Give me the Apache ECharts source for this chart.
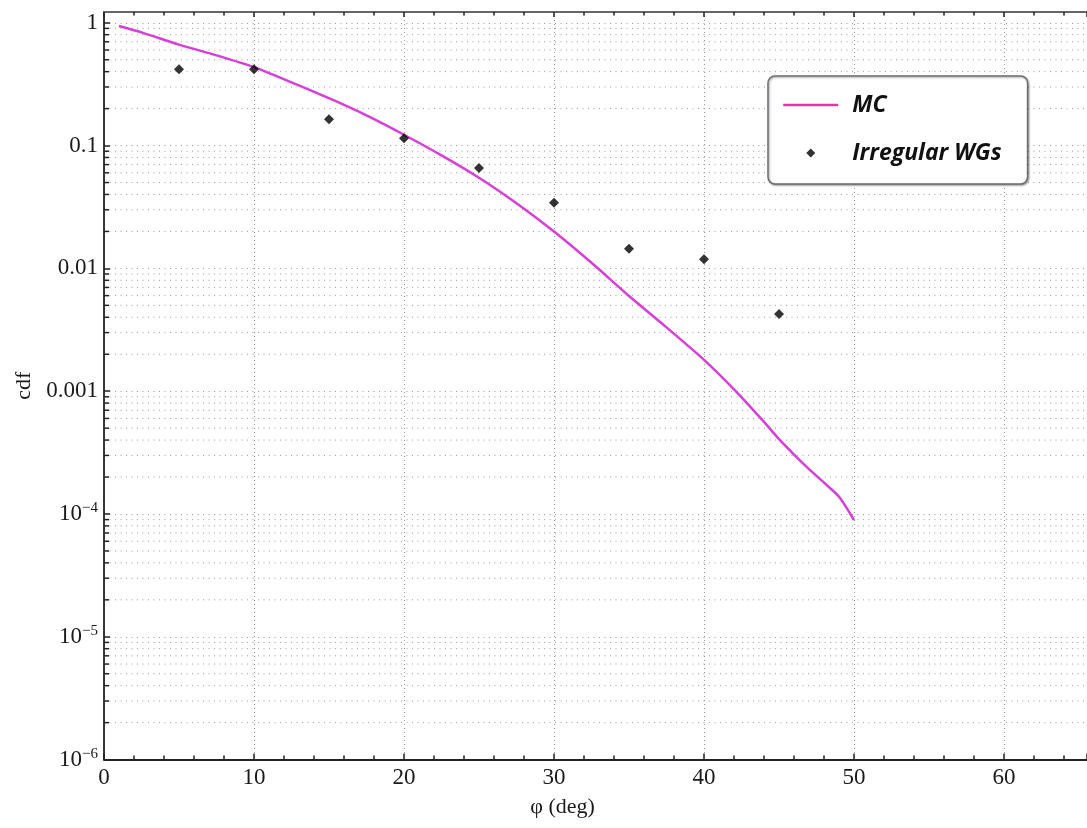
<!DOCTYPE html>
<html>
<head>
<meta charset="utf-8">
<script src="https://cdn.jsdelivr.net/npm/echarts@6/dist/echarts.min.js"></script>
<style>
  html, body { margin: 0; padding: 0; background: #fff; }
  #chart { width: 1087px; height: 828px; }
</style>
</head>
<body>
<div id="chart"></div>
<script>
// Monte Carlo cdf curve
const phiMC = [1, 2.5, 5, 7.5, 10, 12.5, 15, 17.5, 20, 22.5, 25, 27.5, 30, 32.5, 35, 37.5, 40, 42, 44, 45, 46, 47, 48, 49, 50];
const cdfMC = [0.942, 0.836, 0.664, 0.543, 0.435, 0.327, 0.243, 0.176, 0.1225, 0.0832, 0.0547, 0.0339, 0.01995,
               0.0111, 0.00596, 0.00331, 0.0018, 0.001035, 0.000562, 0.000407, 0.000305, 0.000232, 0.00018,
               0.000138, 0.0000891];

// Measured points for irregular waveguides
const phiWG = [5, 10, 15, 20, 25, 30, 35, 40, 45];
const cdfWG = [0.418, 0.418, 0.164, 0.115, 0.0657, 0.0343, 0.01446, 0.01186, 0.00425];

// Axis tick labels: decade exponent -> [mantissa text, superscript]
const yTickExponents = [-6, -5, -4, -3, -2, -1, 0];
const yTickLabels = [['10', '−6'], ['10', '−5'], ['10', '−4'], ['0.001', ''], ['0.01', ''], ['0.1', ''], ['1', '']];

const seriesNames = ['MC', 'Irregular WGs'];

// axis ranges
const xMin = 0, xMax = 65.53, xStep = 10;
const yMin = 1e-6, yMax = 1.224;

// minor log grid values (2..9 x 10^e)
const minorGrid = [];
for (const e of yTickExponents) {
  for (let k = 2; k <= 9; k++) {
    const v = k * Math.pow(10, e);
    if (v < yMax) minorGrid.push([xMin, v]);
  }
}

const serif = 'Liberation Serif';
const ink = '#1a1a1a';
const diamondIcon = 'path://M5,0L10,5L5,10L0,5Z';

const chart = echarts.init(document.getElementById('chart'));
chart.setOption({
  animation: false,
  backgroundColor: '#fff',
  grid: { left: 104, top: 12, right: 0, height: 747.6, containLabel: false },
  legend: {
    orient: 'vertical',
    left: 768, top: 76,
    padding: [17, 26, 19, 14],
    itemWidth: 55, itemHeight: 9, itemGap: 24,
    symbolKeepAspect: true,
    backgroundColor: '#fff',
    borderColor: '#6e6e6e', borderWidth: 1.5, borderRadius: 7,
    shadowColor: 'rgba(0,0,0,0.35)', shadowBlur: 2, shadowOffsetX: 1, shadowOffsetY: 1,
    textStyle: {
      fontFamily: 'Open Sans', fontWeight: 'bold', fontStyle: 'italic',
      fontSize: 23, lineHeight: 24, color: '#111', padding: [0, 0, 0, 9]
    },
    data: [
      { name: seriesNames[0], lineStyle: { color: '#e0389f', width: 2.5 }, itemStyle: { opacity: 0 } },
      { name: seriesNames[1], icon: diamondIcon, itemStyle: { color: '#000' } }
    ]
  },
  xAxis: [
    {
      type: 'value', position: 'bottom', min: xMin, max: xMax, interval: xStep,
      name: 'φ (deg)', nameLocation: 'middle', nameGap: 37,
      nameTextStyle: { fontFamily: serif, fontSize: 22, color: ink, padding: [0, 66, 0, 0] },
      axisLine: { show: true, onZero: false, lineStyle: { color: '#222', width: 1.8 } },
      axisTick: { show: true, inside: true, length: 6, lineStyle: { color: '#222', width: 1.5 } },
      minorTick: { show: true, splitNumber: 5, length: 4, lineStyle: { color: '#222', width: 1.5 } },
      axisLabel: { fontFamily: serif, fontSize: 23, color: ink, margin: 7, showMaxLabel: false },
      splitLine: { show: true, lineStyle: { color: '#9a9a9a', width: 1, type: [1, 3] } }
    },
    {
      type: 'value', position: 'top', min: xMin, max: xMax, interval: xStep,
      axisLine: { show: true, onZero: false, lineStyle: { color: '#666', width: 2 } },
      axisTick: { show: true, inside: true, length: 5, lineStyle: { color: '#222', width: 1.5 } },
      minorTick: { show: true, splitNumber: 5, length: 3.5, lineStyle: { color: '#222', width: 1.5 } },
      axisLabel: { show: false },
      splitLine: { show: false }
    }
  ],
  yAxis: {
    type: 'log', logBase: 10, min: yMin, max: yMax,
    name: 'cdf', nameLocation: 'middle', nameGap: 66,
    nameTextStyle: { fontFamily: serif, fontSize: 22, color: ink },
    axisLine: { show: true, onZero: false, lineStyle: { color: '#222', width: 1.8 } },
    axisTick: { show: true, inside: true, length: 6, lineStyle: { color: '#222', width: 1.5 } },
    axisLabel: {
      margin: 6, showMaxLabel: false,
      formatter: function (v) {
        const e = Math.round(Math.log10(v));
        const i = yTickExponents.indexOf(e);
        if (i < 0) return '';
        const lab = yTickLabels[i];
        return lab[1] ? '{b|' + lab[0] + '}{s|' + lab[1] + '}' : '{b|' + lab[0] + '}';
      },
      rich: {
        b: { fontFamily: serif, fontSize: 23, color: ink, lineHeight: 26 },
        s: { fontFamily: serif, fontSize: 15, color: ink, verticalAlign: 'top', lineHeight: 17 }
      }
    },
    splitLine: { show: true, lineStyle: { color: '#9a9a9a', width: 1, type: [1, 4.5] } }
  },
  series: [
    {
      // minor decade grid lines and their inner ticks
      type: 'custom', name: 'minor grid', silent: true, z: 1,
      coordinateSystem: 'cartesian2d', xAxisIndex: 0,
      data: minorGrid,
      renderItem: function (params, api) {
        const cs = params.coordSys;
        const y = api.coord([api.value(0), api.value(1)])[1];
        return {
          type: 'group',
          children: [
            { type: 'line', shape: { x1: cs.x, y1: y, x2: cs.x + cs.width, y2: y },
              style: { stroke: '#9a9a9a', lineWidth: 1, lineDash: [1, 4.5] } },
            { type: 'line', shape: { x1: cs.x, y1: y, x2: cs.x + 5, y2: y },
              style: { stroke: '#222', lineWidth: 1.5 } }
          ]
        };
      }
    },
    {
      name: seriesNames[0], type: 'line', z: 3,
      data: phiMC.map((x, i) => [x, cdfMC[i]]),
      symbol: 'none', smooth: 0.25,
      lineStyle: { color: '#d83fd8', width: 2.5 },
      itemStyle: { color: '#d83fd8' }
    },
    {
      name: seriesNames[1], type: 'scatter', z: 4,
      data: phiWG.map((x, i) => [x, cdfWG[i]]),
      symbol: 'diamond', symbolSize: 10,
      itemStyle: { color: '#000' }
    }
  ]
});
</script>
</body>
</html>
